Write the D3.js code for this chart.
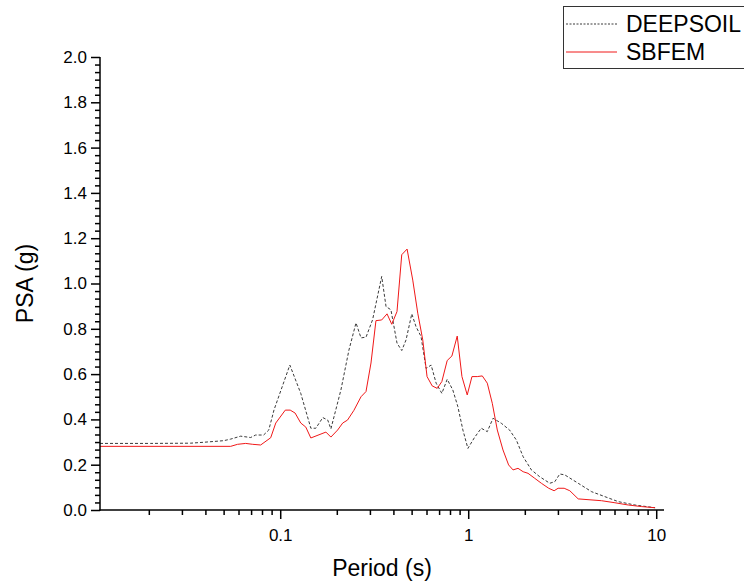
<!DOCTYPE html>
<html>
<head>
<meta charset="utf-8">
<script src="https://cdn.jsdelivr.net/npm/d3@7"></script>
<style>
  html, body { margin: 0; padding: 0; background: #fff; }
  svg { display: block; font-family: "Liberation Sans", Arial, sans-serif; }
</style>
</head>
<body>
<svg id="chart" width="744" height="583"></svg>
<script>
// Response spectra: period (s) vs pseudo-spectral acceleration (g)
const deepsoilPeriod = [0.011, 0.0204, 0.0333, 0.0391, 0.050, 0.0545, 0.0616, 0.0696, 0.074, 0.0816,
  0.0869, 0.0927, 0.1125, 0.1286, 0.1455, 0.1547, 0.1684, 0.179, 0.186, 0.2103,
  0.232, 0.253, 0.269, 0.286, 0.31, 0.3466, 0.3655, 0.388, 0.418, 0.443,
  0.467, 0.501, 0.528, 0.561, 0.597, 0.635, 0.675, 0.724, 0.773, 0.828,
  0.881, 0.937, 0.996, 1.08, 1.173, 1.263, 1.355, 1.5, 1.66, 1.803,
  1.96, 2.168, 2.4, 2.715, 2.887, 3.07, 3.263, 3.846, 4.528, 5.33,
  6.28, 7.71, 9.86];
const deepsoilPSA = [0.294, 0.294, 0.295, 0.299, 0.306, 0.313, 0.326, 0.320, 0.331, 0.331,
  0.353, 0.442, 0.640, 0.515, 0.361, 0.361, 0.408, 0.397, 0.358, 0.530,
  0.706, 0.826, 0.760, 0.763, 0.840, 1.031, 0.898, 0.884, 0.737, 0.704,
  0.751, 0.866, 0.809, 0.766, 0.625, 0.640, 0.560, 0.515, 0.577, 0.530,
  0.456, 0.353, 0.272, 0.320, 0.361, 0.346, 0.405, 0.383, 0.353, 0.309,
  0.235, 0.177, 0.147, 0.118, 0.125, 0.159, 0.155, 0.118, 0.081, 0.059,
  0.037, 0.022, 0.010];

const sbfemPeriod = [0.011, 0.0545, 0.0593, 0.0655, 0.0714, 0.0787, 0.089, 0.0947, 0.1064, 0.113,
  0.12, 0.1286, 0.1368, 0.1455, 0.175, 0.186, 0.202, 0.215, 0.228, 0.2466,
  0.269, 0.286, 0.304, 0.323, 0.3466, 0.37, 0.392, 0.418, 0.443, 0.473,
  0.507, 0.539, 0.573, 0.604, 0.643, 0.684, 0.724, 0.773, 0.819, 0.874,
  0.926, 0.988, 1.047, 1.117, 1.188, 1.263, 1.343, 1.428, 1.531, 1.64,
  1.731, 1.84, 1.96, 2.08, 2.258, 2.45, 2.68, 2.864, 3.007, 3.238,
  3.47, 3.846, 5.12, 6.03, 7.11, 8.37, 9.86];
const sbfemPSA = [0.281, 0.281, 0.290, 0.294, 0.290, 0.287, 0.319, 0.384, 0.441, 0.441,
  0.428, 0.384, 0.366, 0.318, 0.344, 0.322, 0.353, 0.384, 0.397, 0.440,
  0.500, 0.523, 0.649, 0.836, 0.839, 0.866, 0.820, 0.876, 1.127, 1.152,
  1.015, 0.869, 0.751, 0.589, 0.548, 0.537, 0.567, 0.660, 0.680, 0.768,
  0.589, 0.508, 0.589, 0.589, 0.592, 0.560, 0.471, 0.353, 0.265, 0.199,
  0.177, 0.184, 0.169, 0.162, 0.140, 0.118, 0.096, 0.085, 0.096, 0.096,
  0.085, 0.049, 0.041, 0.032, 0.022, 0.015, 0.010];

const xMajorTicks = [0.1, 1, 10];
const xTickLabels = ["0.1", "1", "10"];
const yMajorTicks = [0, 0.2, 0.4, 0.6, 0.8, 1.0, 1.2, 1.4, 1.6, 1.8, 2.0];
const seriesNames = ["DEEPSOIL", "SBFEM"];

const svg = d3.select("#chart");
const plotLeft = 100, plotRight = 664, plotTop = 57, plotBottom = 510;

const x = d3.scaleLog().domain([0.011, 11]).range([plotLeft, plotRight]);
const y = d3.scaleLinear().domain([0, 2]).range([plotBottom, plotTop]);

// minor ticks: 2..9 of each decade on x, 5 subdivisions per major step on y
const xMinor = [];
[0.01, 0.1, 1].forEach(d => { for (let k = 2; k <= 9; k++) xMinor.push(+(d * k).toFixed(3)); });
const xMinorTicks = xMinor.filter(v => v >= 0.011 && v <= 11);
const yMinorTicks = [];
for (let i = 0; i < 10; i++) for (let k = 1; k < 6; k++) yMinorTicks.push(i * 0.2 + k * 0.2 / 6);

const line = (px, py) => d3.line()
  .x((d, i) => x(px[i]))
  .y((d, i) => y(py[i]))(py);

svg.append("path")
  .attr("d", line(deepsoilPeriod, deepsoilPSA))
  .attr("fill", "none").attr("stroke", "#3a3a3a").attr("stroke-width", 1)
  .attr("stroke-dasharray", "3,2");

svg.append("path")
  .attr("d", line(sbfemPeriod, sbfemPSA))
  .attr("fill", "none").attr("stroke", "#f01818").attr("stroke-width", 1);

// x axis
const gx = svg.append("g").attr("transform", `translate(0,${plotBottom})`);
gx.call(d3.axisBottom(x).tickValues(xMinorTicks).tickSize(5).tickFormat(""));
gx.select(".domain").remove();
const gxMaj = svg.append("g").attr("transform", `translate(0,${plotBottom})`)
  .call(d3.axisBottom(x).tickValues(xMajorTicks).tickSize(9).tickPadding(10)
    .tickFormat((d, i) => xTickLabels[i]));
gxMaj.select(".domain").remove();
gxMaj.selectAll("text").attr("font-size", 17).attr("font-family", "Liberation Sans, Arial, sans-serif").attr("fill", "#000");
svg.append("line").attr("x1", plotLeft - 0.75).attr("x2", plotRight).attr("y1", plotBottom).attr("y2", plotBottom)
  .attr("stroke", "#000").attr("stroke-width", 1.5);

// y axis
const gy = svg.append("g").attr("transform", `translate(${plotLeft},0)`);
gy.call(d3.axisLeft(y).tickValues(yMinorTicks).tickSize(5).tickFormat(""));
gy.select(".domain").remove();
const gyMaj = svg.append("g").attr("transform", `translate(${plotLeft},0)`)
  .call(d3.axisLeft(y).tickValues(yMajorTicks).tickSize(9).tickPadding(4).tickFormat(d3.format(".1f")));
gyMaj.select(".domain").remove();
gyMaj.selectAll("text").attr("font-size", 17).attr("font-family", "Liberation Sans, Arial, sans-serif").attr("fill", "#000");
svg.append("line").attr("x1", plotLeft).attr("x2", plotLeft).attr("y1", plotTop).attr("y2", plotBottom + 0.75)
  .attr("stroke", "#000").attr("stroke-width", 1.5);

svg.selectAll(".tick line").attr("stroke", "#000").attr("stroke-width", 1.5);

// axis titles
svg.append("text").attr("x", (plotLeft + plotRight) / 2).attr("y", 576)
  .attr("text-anchor", "middle").attr("font-size", 23).text("Period (s)");
svg.append("text").attr("transform", `translate(33,${(plotTop + plotBottom) / 2}) rotate(-90)`)
  .attr("text-anchor", "middle").attr("font-size", 23).text("PSA (g)");

// legend
const lg = svg.append("g");
lg.append("rect").attr("x", 563.5).attr("y", 6.5).attr("width", 200).attr("height", 62)
  .attr("fill", "#fff").attr("stroke", "#333").attr("stroke-width", 1);
const legendStyle = [
  { color: "#3a3a3a", dash: "2,1.5" },
  { color: "#f01818", dash: null }
];
seriesNames.forEach((name, i) => {
  const cy = 24 + i * 28;
  lg.append("line").attr("x1", 566).attr("x2", 617).attr("y1", cy).attr("y2", cy)
    .attr("stroke", legendStyle[i].color).attr("stroke-width", 1)
    .attr("stroke-dasharray", legendStyle[i].dash);
  lg.append("text").attr("x", 626).attr("y", cy + 8).attr("font-size", 23).text(name);
});
</script>
</body>
</html>
